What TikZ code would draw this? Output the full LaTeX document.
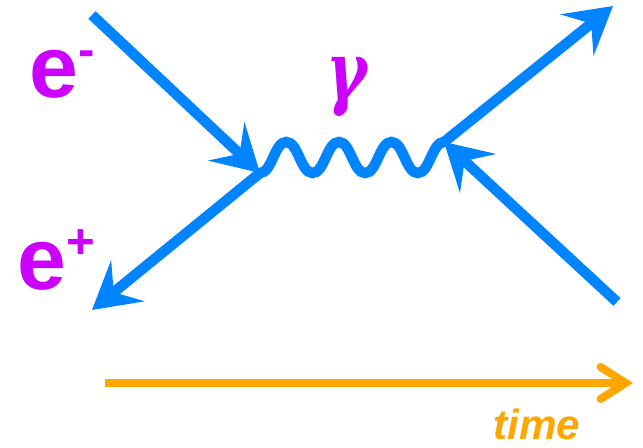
\documentclass[tikz,border=0pt]{standalone}
\usepackage{amsmath}
\usepackage{fontspec}
\usepackage{tikz}
\usetikzlibrary{arrows.meta}
\newfontfamily\labelfont{Liberation Sans}
\newfontfamily\greekfont{DejaVu Serif}
\definecolor{lineblue}{RGB}{0,132,255}
\definecolor{labelpurple}{RGB}{204,0,255}
\definecolor{timeorange}{RGB}{255,166,0}

\newcommand{\chargesup}[1]{\raisebox{18pt}{\fontsize{28}{28}\selectfont #1}}

\tikzset{
  fermion/.style={draw=lineblue, line width=0.21cm,
    -{Stealth[length=0.92cm, width=1.05cm, inset=0.36cm]}},
  photon/.style={draw=lineblue, line width=0.21cm, line cap=round},
  particle/.style={text=labelpurple, font={\labelfont\bfseries\fontsize{50}{50}\selectfont},
    inner sep=0pt, anchor=base west},
  gammalabel/.style={text=labelpurple, font={\greekfont\bfseries\itshape\fontsize{44}{44}\selectfont},
    inner sep=0pt},
  timelabel/.style={text=timeorange, font={\labelfont\bfseries\itshape\fontsize{24}{24}\selectfont},
    anchor=base west, inner sep=0pt},
}

\begin{document}
\begin{tikzpicture}[x=0.02cm, y=-0.02cm]
  \useasboundingbox (0,0) rectangle (643,448);

  % Vertices and free ends
  \coordinate (vl) at (260,173);
  \coordinate (vr) at (444,142);
  \coordinate (emin) at (92,15);
  \coordinate (eplus) at (92,310);
  \coordinate (eout) at (613,6);
  \coordinate (pin) at (617,302);

  % Fermion lines
  \draw[fermion] (emin) -- (vl);
  \draw[fermion] (vl) -- (eplus);
  \draw[fermion] (vr) -- (eout);
  \draw[fermion] (pin) -- (vr);

  % Photon
  \draw[photon] (vl)
    .. controls +(12,0) and +(-12,0) .. ++(26.29,-31)
    .. controls +(12,0) and +(-12,0) .. ++(26.29,31)
    .. controls +(12,0) and +(-12,0) .. ++(26.29,-31)
    .. controls +(12,0) and +(-12,0) .. ++(26.29,31)
    .. controls +(12,0) and +(-12,0) .. ++(26.29,-31)
    .. controls +(12,0) and +(-12,0) .. ++(26.29,31)
    .. controls +(12,0) and +(-12,0) .. ++(26.29,-31);

  % Labels
  \node[particle] (elabel) at (29,98) {e\chargesup{-}};
  \node[particle] (plabel) at (17,290) {e\chargesup{+}};
  \node[gammalabel] (glabel) at (347,87) {\scalebox{0.8}[1.05]{γ}};

  % Time axis
  \coordinate (tstart) at (105,383);
  \coordinate (tend) at (633,383);
  \draw[draw=timeorange, line width=0.16cm,
    -{Straight Barb[length=0.5cm, width=0.64cm, line cap=round]}] (tstart) -- (tend);
  \node[timelabel] (tlabel) at (493,440) {time};
\end{tikzpicture}
\end{document}
